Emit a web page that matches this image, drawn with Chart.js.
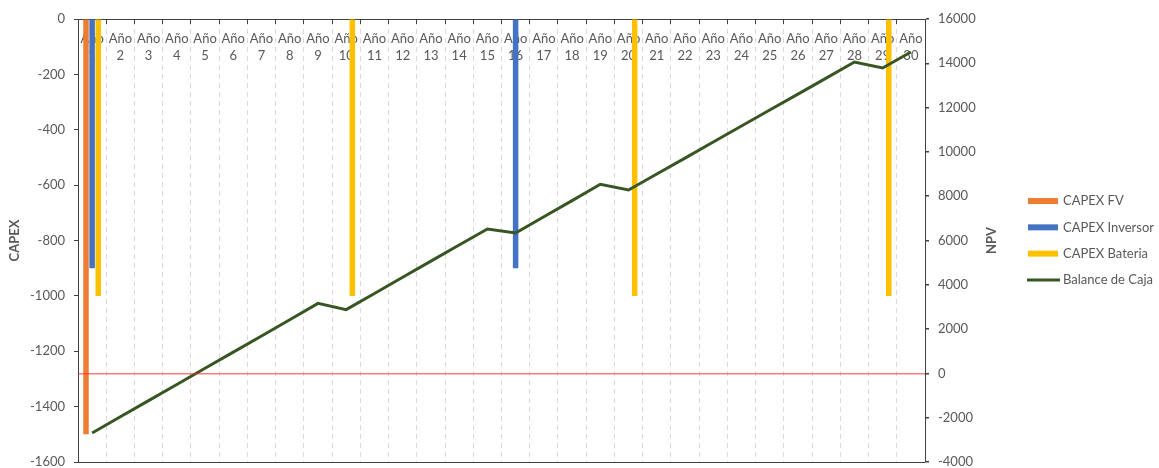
<!DOCTYPE html>
<html>
<head>
<meta charset="utf-8">
<title>CAPEX y Balance de Caja</title>
<script src="https://cdn.jsdelivr.net/npm/chart.js@4.4.1/dist/chart.umd.min.js"></script>
<style>
  html, body { margin: 0; padding: 0; background: #ffffff; }
  #wrap { width: 1159px; height: 468px; }
</style>
</head>
<body>
<div id="wrap"><canvas id="chart" width="1159" height="468"></canvas></div>
<script>
// Project years
const years = [1, 2, 3, 4, 5, 6, 7, 8, 9, 10, 11, 12, 13, 14, 15, 16, 17, 18, 19, 20,
               21, 22, 23, 24, 25, 26, 27, 28, 29, 30];

// Investment outlays per year (negative = spending)
const capexFV = [-1500, null, null, null, null, null, null, null, null, null,
                 null, null, null, null, null, null, null, null, null, null,
                 null, null, null, null, null, null, null, null, null, null];
const capexInversor = [-900, null, null, null, null, null, null, null, null, null,
                       null, null, null, null, null, -900, null, null, null, null,
                       null, null, null, null, null, null, null, null, null, null];
const capexBateria = [-1000, null, null, null, null, null, null, null, null, -1000,
                      null, null, null, null, null, null, null, null, null, -1000,
                      null, null, null, null, null, null, null, null, -1000, null];

// Cumulative cash balance (NPV axis)
const balanceCaja = [-2690, -1960, -1230, -500, 230, 960, 1690, 2420, 3160, 2880,
                     3610, 4340, 5070, 5800, 6520, 6340, 7070, 7800, 8540, 8280,
                     9000, 9720, 10450, 11170, 11890, 12610, 13330, 14060, 13790, 14510];

// Axis ranges
const capexMin = -1600, capexMax = 0, capexStep = 200;
const npvMin = -4000, npvMax = 16000, npvStep = 2000;

const categoryLabels = years.map(n => ['Año', String(n)]);

const FONT = 'Lato, "Liberation Sans", sans-serif';
const TEXT = '#595959';
const AXIS = '#404040';

Chart.defaults.font.family = FONT;
Chart.defaults.font.size = 13;
Chart.defaults.color = TEXT;

// Keep the end tick labels from shrinking the plot area
function noEdgePadding(s) {
  s.paddingTop = 0;
  s.paddingBottom = 0;
}

// Legend at the right, drawn beside the plot
const sideLegend = {
  id: 'sideLegend',
  afterDraw(chart) {
    const { ctx, chartArea } = chart;
    const x0 = chartArea.right + 103;
    const gap = 26.3;
    const items = chart.data.datasets;
    const y0 = (chartArea.top + chartArea.bottom) / 2 - gap * (items.length - 1) / 2;
    ctx.save();
    ctx.font = '13px ' + FONT;
    ctx.textBaseline = 'middle';
    ctx.textAlign = 'left';
    items.forEach((ds, i) => {
      const y = y0 + i * gap;
      if (ds.type === 'line') {
        ctx.strokeStyle = ds.borderColor;
        ctx.lineWidth = 3;
        ctx.beginPath();
        ctx.moveTo(x0 - 1, y);
        ctx.lineTo(x0 + 32, y);
        ctx.stroke();
      } else {
        ctx.fillStyle = ds.backgroundColor;
        ctx.fillRect(x0, y - 3, 30, 6);
      }
      ctx.fillStyle = TEXT;
      ctx.fillText(ds.label, x0 + 35, y);
    });
    ctx.restore();
  }
};

// Secondary-axis title, read bottom to top
const npvTitle = {
  id: 'npvTitle',
  afterDraw(chart) {
    const s = chart.scales.y2;
    const { ctx, chartArea } = chart;
    ctx.save();
    ctx.translate(s.left + 67, (chartArea.top + chartArea.bottom) / 2);
    ctx.rotate(-Math.PI / 2);
    ctx.font = 'bold 13px ' + FONT;
    ctx.fillStyle = TEXT;
    ctx.textAlign = 'center';
    ctx.textBaseline = 'middle';
    ctx.fillText('NPV', 0, 0);
    ctx.restore();
  }
};

new Chart(document.getElementById('chart'), {
  type: 'bar',
  data: {
    labels: categoryLabels,
    datasets: [
      { label: 'CAPEX FV', data: capexFV, backgroundColor: '#ED7D31', yAxisID: 'y', order: 1 },
      { label: 'CAPEX Inversor', data: capexInversor, backgroundColor: '#4472C4', yAxisID: 'y', order: 1 },
      { label: 'CAPEX Bateria', data: capexBateria, backgroundColor: '#FFC000', yAxisID: 'y', order: 1 },
      { type: 'line', label: 'Balance de Caja', data: balanceCaja, borderColor: '#375623',
        backgroundColor: '#375623', borderWidth: 3, pointRadius: 0, tension: 0,
        yAxisID: 'y2', order: 0 }
    ]
  },
  options: {
    responsive: false,
    animation: false,
    layout: { padding: { left: 0, top: 0, right: 149, bottom: 6 } },
    datasets: { bar: { categoryPercentage: 0.65, barPercentage: 0.9, borderWidth: 0 } },
    plugins: { legend: { display: false }, tooltip: { enabled: false } },
    scales: {
      x: {
        type: 'category',
        position: 'top',
        offset: true,
        grid: { offset: true, color: '#d9d9d9', lineWidth: 1, drawTicks: true, tickLength: -5,
                tickColor: AXIS, tickWidth: 1 },
        border: { display: true, color: AXIS, width: 1, dash: [5, 4] },
        ticks: { autoSkip: false, maxRotation: 0, minRotation: 0, mirror: true, padding: -5.4,
                 color: TEXT, font: { size: 13, lineHeight: 1.3 } },
        afterFit(s) { s.height = 19; }
      },
      y: {
        position: 'left',
        min: capexMin, max: capexMax,
        ticks: { stepSize: capexStep, padding: 9, color: TEXT, callback: v => String(v) },
        grid: {
          drawOnChartArea: true, drawTicks: true, tickLength: 4, tickColor: AXIS,
          color: c => (c.tick && c.tick.value === capexMin) ? AXIS : 'rgba(0,0,0,0)'
        },
        border: { display: true, color: AXIS, width: 1 },
        title: { display: true, text: 'CAPEX', color: TEXT, font: { size: 13, weight: 'bold' },
                 padding: { top: 7, bottom: 0 } },
        afterFit(s) { s.width = 78; noEdgePadding(s); }
      },
      y2: {
        position: 'right',
        min: npvMin, max: npvMax,
        ticks: { stepSize: npvStep, padding: 9, color: TEXT, callback: v => String(v) },
        grid: {
          drawOnChartArea: true, drawTicks: true, tickLength: 4, tickColor: AXIS, z: 1,
          color: c => (c.tick && c.tick.value === 0) ? 'rgba(255,40,40,0.6)' : 'rgba(0,0,0,0)',
          lineWidth: 1.5
        },
        border: { display: true, color: AXIS, width: 1, z: 1 },
        afterFit(s) { s.width = 85; noEdgePadding(s); }
      }
    }
  },
  plugins: [sideLegend, npvTitle]
});
</script>
</body>
</html>
